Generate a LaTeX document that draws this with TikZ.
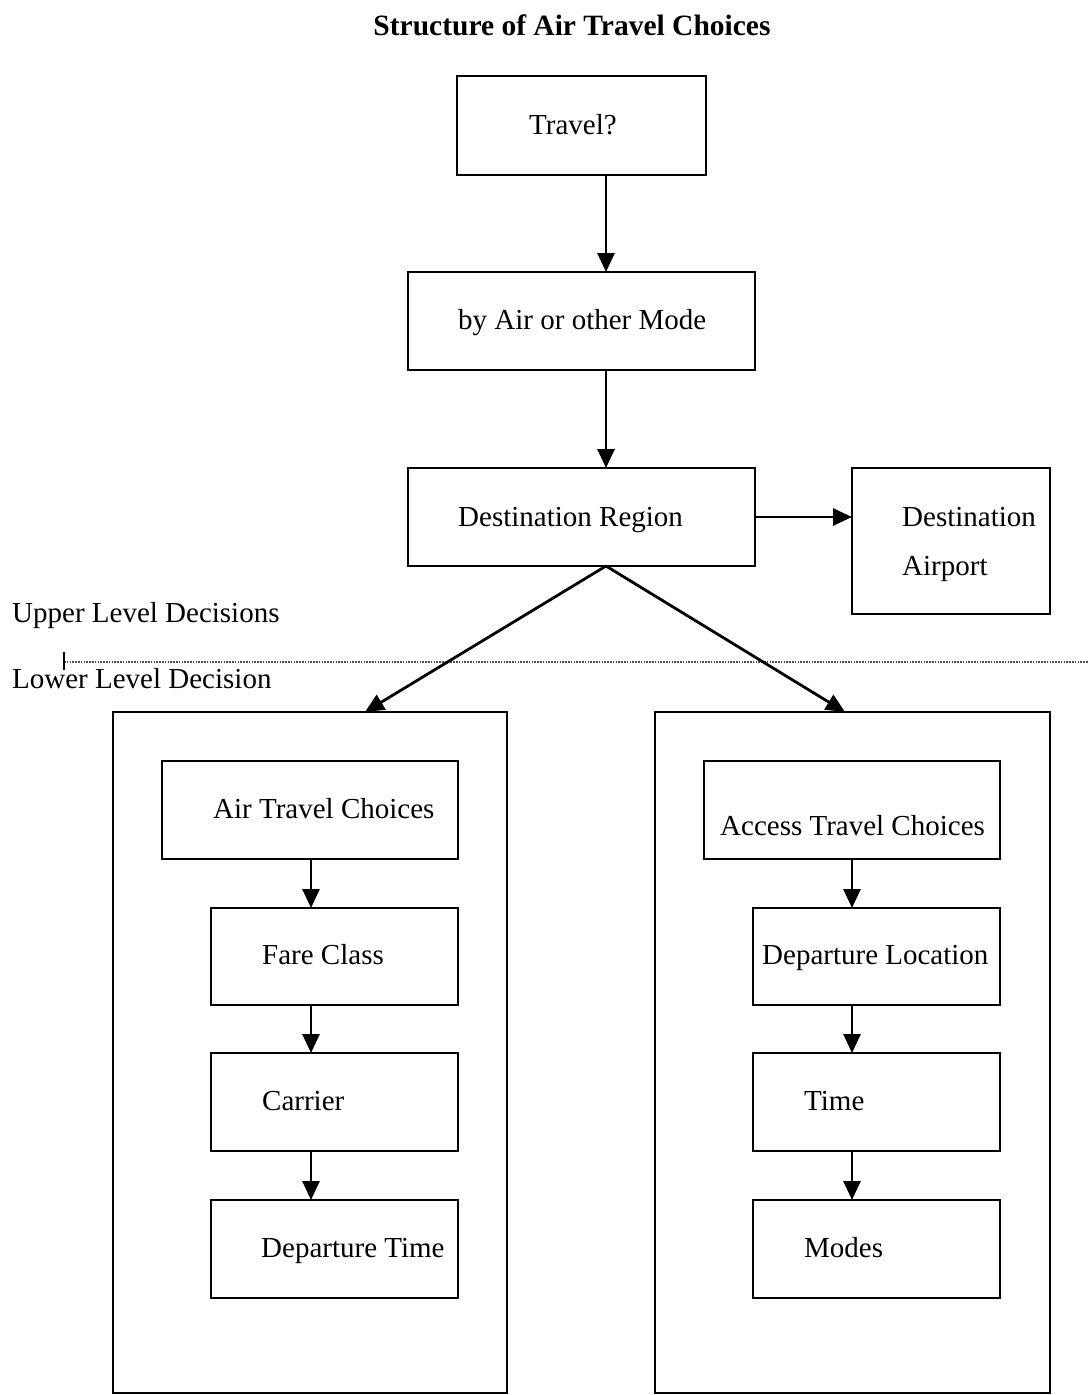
\documentclass[tikz,border=0pt]{standalone}
\usepackage{fontspec}
\setmainfont{Liberation Serif}
\usetikzlibrary{arrows.meta}
\begin{document}
\begin{tikzpicture}[x=1pt,y=-1pt,
  box/.style={draw,line width=2.8pt,inner sep=0pt,outer sep=0pt,rectangle},
  txt/.style={anchor=base west,inner sep=0pt,font=\fontsize{29}{34}\selectfont},
  arr/.style={line width=2.8pt,-{Triangle[length=19pt,width=17pt]}},
  con/.style={line width=2.8pt}]
\useasboundingbox (0,0) rectangle (1089,1395);
% title
\node[anchor=base,inner sep=0pt,font=\fontsize{29.5}{34}\selectfont\bfseries] (title) at (572,35) {Structure of Air Travel Choices};
% upper boxes
\node[box,minimum width=249pt,minimum height=99pt] (tr) at (581.5,125.5) {};
\node[box,minimum width=347pt,minimum height=98pt] (ba) at (581.5,321) {};
\node[box,minimum width=347pt,minimum height=98pt] (dr) at (581.5,517) {};
\node[box,minimum width=198pt,minimum height=146pt] (da) at (951,541) {};
\node[txt] (ttr) at (529,134) {Travel?};
\node[txt] (tba) at (458,329) {by Air or other Mode};
\node[txt] (tdr) at (458,526) {Destination Region};
\node[txt] (tda1) at (902,526) {Destination};
\node[txt] (tda2) at (902,575) {Airport};
% arrows upper
\coordinate (ax) at (606,0);
\draw[arr] (tr.south -| ax) -- (ba.north -| ax);
\draw[arr] (ba.south -| ax) -- (dr.north -| ax);
\draw[arr] (dr.east) -- (da.west |- dr.east);
% level labels
\node[txt] (up) at (12,622) {Upper Level Decisions};
\node[txt] (lo) at (12,688) {Lower Level Decision};
\coordinate (tick) at (64,662);
\coordinate (dend) at (1089,662);
\draw[line width=1.5pt,black!70,dash pattern=on 1.6pt off 1.2pt] (tick) -- (dend);
\draw[line width=2.6pt] ([yshift=-8pt]tick) -- ([yshift=10pt]tick);
% big boxes
\node[box,minimum width=394pt,minimum height=681pt] (L) at (310,1052.5) {};
\node[box,minimum width=395pt,minimum height=681pt] (R) at (852.5,1052.5) {};
\coordinate (ds) at (606,566);
\draw[arr] (ds) -- (L.north -| 365,0);
\draw[arr] (ds) -- (R.north -| 845,0);
% left inner
\node[box,minimum width=296pt,minimum height=98pt] (a1) at (310,810) {};
\node[box,minimum width=247pt,minimum height=97pt] (a2) at (334.5,956.5) {};
\node[box,minimum width=247pt,minimum height=98pt] (a3) at (334.5,1102) {};
\node[box,minimum width=247pt,minimum height=98pt] (a4) at (334.5,1249) {};
\node[txt] (ta1) at (213,818) {Air Travel Choices};
\node[txt] (ta2) at (262,964) {Fare Class};
\node[txt] (ta3) at (262,1110) {Carrier};
\node[txt] (ta4) at (261,1257) {Departure Time};
\coordinate (lx) at (311,0);
\draw[arr] (a1.south -| lx) -- (a2.north -| lx);
\draw[arr] (a2.south -| lx) -- (a3.north -| lx);
\draw[arr] (a3.south -| lx) -- (a4.north -| lx);
% right inner
\node[box,minimum width=296pt,minimum height=98pt] (b1) at (852,810) {};
\node[box,minimum width=247pt,minimum height=97pt] (b2) at (876.5,956.5) {};
\node[box,minimum width=247pt,minimum height=98pt] (b3) at (876.5,1102) {};
\node[box,minimum width=247pt,minimum height=98pt] (b4) at (876.5,1249) {};
\node[txt] (tb1) at (720,835) {Access Travel Choices};
\node[txt] (tb2) at (762,964) {Departure Location};
\node[txt] (tb3) at (804,1110) {Time};
\node[txt] (tb4) at (804,1257) {Modes};
\coordinate (rx) at (852,0);
\draw[arr] (b1.south -| rx) -- (b2.north -| rx);
\draw[arr] (b2.south -| rx) -- (b3.north -| rx);
\draw[arr] (b3.south -| rx) -- (b4.north -| rx);
\end{tikzpicture}
\end{document}
